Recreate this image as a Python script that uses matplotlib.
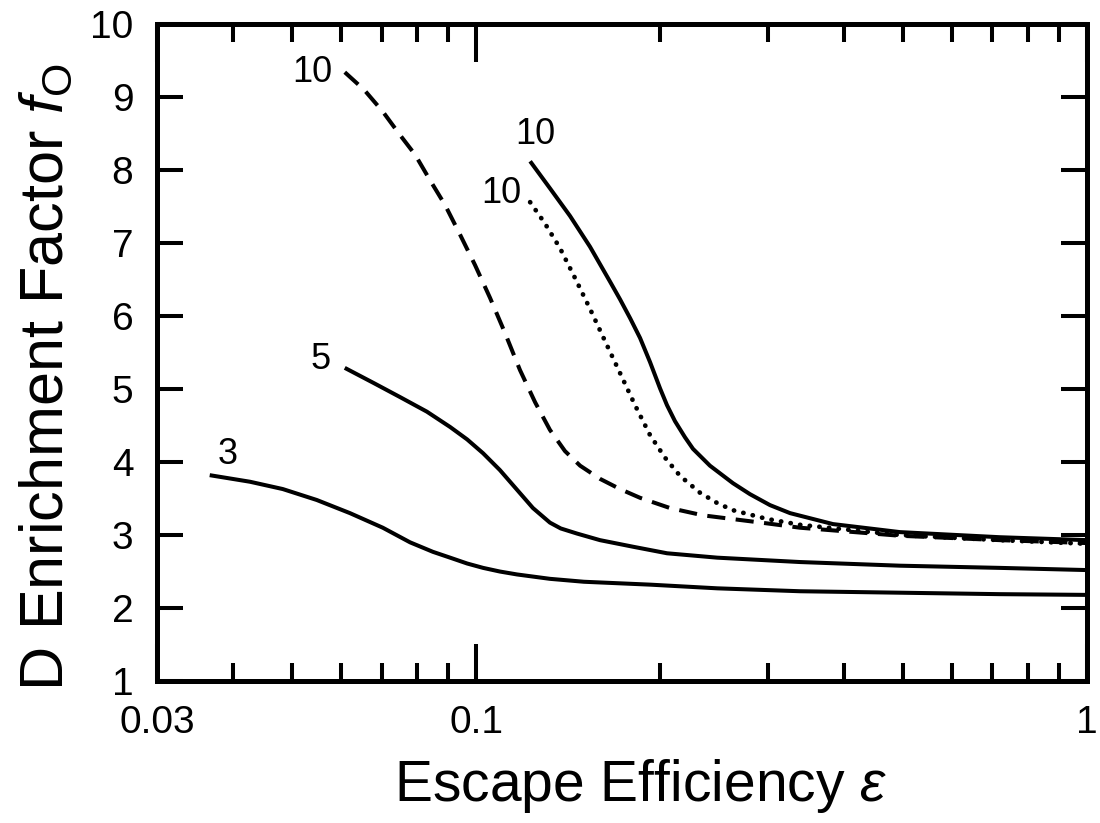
import matplotlib
matplotlib.use('Agg')
import matplotlib.pyplot as plt
from matplotlib.ticker import FixedLocator, FixedFormatter, NullFormatter

plt.rcParams['font.family'] = 'Liberation Sans'
plt.rcParams['mathtext.fontset'] = 'custom'
plt.rcParams['mathtext.rm'] = 'Liberation Sans'
plt.rcParams['mathtext.it'] = 'Liberation Sans:italic'

# curve "3" (solid)
eps_3 = [0.0366, 0.0426, 0.0482, 0.0548, 0.0621, 0.0703, 0.0779, 0.0849, 0.0906,
         0.0966, 0.1026, 0.1093, 0.1166, 0.132, 0.150, 0.193, 0.248, 0.339,
         0.494, 0.720, 1.0]
f_3 = [3.82, 3.73, 3.63, 3.48, 3.30, 3.10, 2.90, 2.77, 2.69,
       2.61, 2.55, 2.50, 2.46, 2.40, 2.36, 2.32, 2.27, 2.23,
       2.21, 2.19, 2.18]

# curve "5" (solid)
eps_5 = [0.0609, 0.0680, 0.0750, 0.0830, 0.0906, 0.0966, 0.1026, 0.1093, 0.1166,
         0.1238, 0.132, 0.1375, 0.1462, 0.1594, 0.1805, 0.2053, 0.248, 0.339,
         0.494, 0.720, 1.0]
f_5 = [5.29, 5.08, 4.89, 4.69, 4.48, 4.31, 4.12, 3.89, 3.62,
       3.37, 3.17, 3.09, 3.02, 2.93, 2.84, 2.75, 2.69, 2.63,
       2.58, 2.55, 2.52]

# curve "10" (dashed)
eps_10d = [0.0609, 0.0655, 0.0703, 0.0750, 0.0794, 0.0840, 0.0889, 0.0940, 0.0995,
           0.1053, 0.1114, 0.1179, 0.1248, 0.132, 0.1397, 0.1479, 0.1594, 0.1719,
           0.1854, 0.2075, 0.235, 0.299, 0.339, 0.494, 0.720, 1.0]
f_10d = [9.34, 9.10, 8.80, 8.48, 8.21, 7.86, 7.52, 7.12, 6.70,
         6.25, 5.77, 5.26, 4.82, 4.44, 4.15, 3.95, 3.77, 3.63,
         3.51, 3.37, 3.27, 3.16, 3.10, 2.99, 2.93, 2.89]

# curve "10" (solid)
eps_10s = [0.1225, 0.132, 0.1424, 0.1535, 0.1656, 0.1719, 0.1786, 0.1854, 0.1925,
           0.1999, 0.2052, 0.2115, 0.2196, 0.2264, 0.2413, 0.2632, 0.2806, 0.3026,
           0.3264, 0.3837, 0.494, 0.720, 1.0]
f_10s = [8.12, 7.75, 7.37, 6.95, 6.47, 6.23, 5.97, 5.70, 5.37,
         5.01, 4.78, 4.56, 4.34, 4.18, 3.95, 3.71, 3.56, 3.41,
         3.30, 3.15, 3.04, 2.97, 2.93]

# curve "10" (dotted)
eps_10p = [0.1225, 0.1295, 0.1371, 0.1451, 0.1535, 0.1624, 0.1719, 0.1819, 0.1925,
           0.2037, 0.2156, 0.2324, 0.2478, 0.2632, 0.2994, 0.339, 0.494, 0.720, 1.0]
f_10p = [7.56, 7.27, 6.93, 6.52, 6.10, 5.66, 5.22, 4.78, 4.37,
         4.06, 3.81, 3.58, 3.44, 3.34, 3.22, 3.14, 3.00, 2.93, 2.88]

# curve labels: text, eps, f
labels = [('3', 0.0392, 4.10), ('5', 0.0555, 5.40), ('10', 0.0538, 9.33),
          ('10', 0.1248, 8.48), ('10', 0.110, 7.68)]

x_major = [0.03, 0.1, 1.0]
x_major_labels = ['0.03', '0.1', '1']
x_minor = [0.04, 0.05, 0.06, 0.07, 0.08, 0.09, 0.2, 0.3, 0.4, 0.5, 0.6, 0.7, 0.8, 0.9]
y_ticks = [1, 2, 3, 4, 5, 6, 7, 8, 9, 10]

fig = plt.figure(figsize=(11, 8.23), dpi=100)
ax = fig.add_axes([0.1427, 0.1725, 0.8455, 0.7983])

lw = 2.9
ax.plot(eps_3, f_3, color='black', lw=lw, solid_capstyle='butt')
ax.plot(eps_5, f_5, color='black', lw=lw, solid_capstyle='butt')
ax.plot(eps_10d, f_10d, color='black', lw=lw, linestyle=(0, (4.5, 2.6)), dash_capstyle='butt')
ax.plot(eps_10s, f_10s, color='black', lw=lw, solid_capstyle='butt')
ax.plot(eps_10p, f_10p, color='black', lw=3.4, linestyle=(0, (0.05, 2.0)), dash_capstyle='round')

for txt, ex, fy in labels:
    ax.text(ex, fy, txt, fontsize=26, ha='center', va='center')

ax.set_xscale('log')
ax.set_xlim(0.03, 1.0)
ax.set_ylim(1, 10)
ax.xaxis.set_major_locator(FixedLocator(x_major))
ax.xaxis.set_major_formatter(FixedFormatter(x_major_labels))
ax.xaxis.set_minor_locator(FixedLocator(x_minor))
ax.xaxis.set_minor_formatter(NullFormatter())
ax.yaxis.set_major_locator(FixedLocator(y_ticks))

for s in ax.spines.values():
    s.set_linewidth(3.6)

ax.tick_params(axis='both', which='both', direction='in', top=True, right=True,
               width=2.9, labelsize=28, pad=17)
ax.tick_params(axis='y', which='major', length=19)
ax.tick_params(axis='x', which='major', length=27)
ax.tick_params(axis='x', which='minor', length=13)

ax.set_xlabel(r'Escape Efficiency $\varepsilon$', fontsize=41)
ax.set_ylabel(r'D Enrichment Factor $f_\mathregular{O}$', fontsize=44)
ax.xaxis.set_label_coords(0.52, -0.115)
ax.yaxis.set_label_coords(-0.088, 0.463)

fig.savefig('out.png', dpi=100)
